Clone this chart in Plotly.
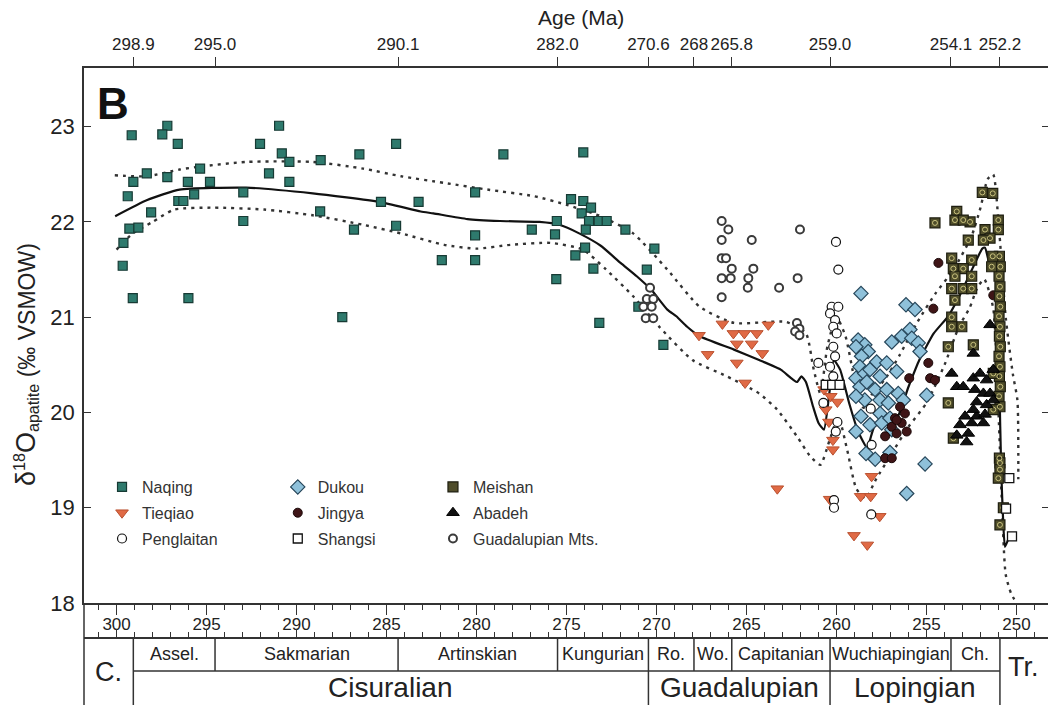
import plotly.graph_objects as go

# ---------------- data ----------------
top_tick_labels = ["298.9", "295.0", "290.1", "282.0", "270.6", "268", "265.8", "259.0", "254.1", "252.2"]
# position of each labelled boundary on the numeric age axis
boundary_pos = [299.07, 294.53, 284.36, 275.50, 270.45, 267.92, 265.82, 260.36, 253.64, 250.92]
stage_names = ["Assel.", "Sakmarian", "Artinskian", "Kungurian", "Ro.", "Wo.", "Capitanian", "Wuchiapingian", "Ch."]
series_names = ["Cisuralian", "Guadalupian", "Lopingian"]
series_span = [(0, 4), (4, 7), (7, 9)]

naqing_age = [299.16, 297.18, 297.46, 296.60, 292.03, 290.97, 284.47, 286.51, 290.82, 290.40, 288.66, 295.36,
              298.32, 297.18, 299.07, 296.04, 294.81, 291.53, 290.40, 295.69, 292.96, 296.57, 296.29, 299.38,
              298.08, 285.31, 283.22, 299.29, 298.79, 292.96, 288.69, 286.81, 284.47, 299.62, 299.66, 299.10,
              296.01, 287.46, 278.51, 274.07, 280.08, 280.08, 281.93, 280.08, 276.93, 275.64, 275.54, 274.75,
              274.07, 273.64, 274.16, 273.75, 273.21, 272.77, 273.93, 273.97, 274.51, 273.51, 271.73, 270.12,
              270.54, 275.57, 273.18, 269.62, 271.01]
naqing_d18o = [22.91, 23.01, 22.92, 22.82, 22.82, 23.01, 22.82, 22.71, 22.72, 22.63, 22.65, 22.56,
               22.51, 22.47, 22.42, 22.42, 22.42, 22.51, 22.42, 22.29, 22.31, 22.22, 22.22, 22.27,
               22.10, 22.21, 22.21, 21.93, 21.94, 22.01, 22.11, 21.92, 21.96, 21.78, 21.54, 21.20,
               21.20, 21.00, 22.71, 22.73, 22.31, 21.86, 21.60, 21.60, 21.92, 21.87, 22.01, 22.24,
               22.22, 22.15, 22.09, 22.01, 22.01, 22.01, 21.92, 21.73, 21.65, 21.51, 21.92, 21.72,
               21.50, 21.40, 20.94, 20.71, 21.11]

tieqiao_age = [267.64, 266.34, 265.73, 265.12, 264.43, 263.79, 265.54, 264.71, 264.12, 267.16, 265.54, 265.08,
               263.29, 260.69, 260.32, 260.60, 259.95, 260.42, 260.20, 260.20, 260.38, 258.66, 258.10, 258.05,
               257.60, 259.03, 258.29]
tieqiao_d18o = [20.81, 20.93, 20.83, 20.83, 20.83, 20.92, 20.72, 20.72, 20.62, 20.61, 20.52, 20.31,
                19.20, 20.24, 20.17, 20.03, 20.11, 19.90, 19.71, 19.61, 19.09, 19.12, 19.12, 19.33,
                18.91, 18.71, 18.61]

penglaitan_age = [260.03, 259.90, 260.27, 259.90, 260.36, 260.08, 260.18, 259.99, 260.18, 260.08, 260.36,
                  261.01, 260.18, 260.73, 259.95, 260.04, 258.10, 258.05, 260.14, 260.14, 258.07]
penglaitan_d18o = [21.79, 21.50, 21.11, 21.11, 21.04, 20.97, 20.90, 20.83, 20.69, 20.59, 20.48,
                   20.52, 20.38, 20.10, 19.90, 19.80, 20.04, 19.66, 19.08, 19.00, 18.93]

dukou_age = [258.64, 258.80, 258.43, 258.24, 258.61, 258.92, 258.70, 258.92, 258.43, 258.70, 258.43, 258.64,
             258.92, 258.36, 256.14, 255.64, 255.92, 256.38, 256.93, 255.82, 255.46, 255.36, 257.77, 258.14,
             257.21, 257.58, 258.32, 257.86, 257.21, 256.66, 257.58, 257.12, 256.57, 256.29, 257.58, 258.14,
             257.49, 257.03, 256.93, 254.99, 258.92, 257.85, 257.03, 255.08, 256.10]
dukou_d18o = [21.25, 20.76, 20.71, 20.64, 20.59, 20.69, 20.48, 20.36, 20.41, 20.27, 20.13, 19.96,
              19.80, 19.57, 21.13, 21.08, 20.87, 20.80, 20.74, 20.78, 20.73, 20.64, 20.53, 20.45,
              20.52, 20.38, 20.32, 20.24, 20.24, 20.43, 20.13, 20.10, 20.20, 20.13, 19.99, 19.87,
              19.89, 19.94, 19.82, 20.18, 20.17, 19.51, 19.58, 19.46, 19.15]

jingya_age = [254.34, 254.62, 251.29, 254.90, 254.80, 254.53, 255.96, 256.47, 256.20, 256.75, 256.38, 256.93,
              257.30, 256.66, 256.66, 256.10, 257.30, 256.93]
jingya_d18o = [21.57, 21.09, 21.23, 20.52, 20.36, 20.34, 20.36, 20.06, 19.99, 19.94, 19.89, 19.85,
               19.75, 19.78, 19.92, 19.80, 19.52, 19.52]

shangsi_age = [260.60, 260.24, 259.83, 250.40, 250.58, 250.25]
shangsi_d18o = [20.29, 20.29, 20.29, 19.31, 18.99, 18.70]

meishan_age = [251.90, 251.32, 254.53, 253.32, 253.42, 252.58, 252.96, 251.01, 251.01, 251.75, 251.47, 251.84,
               252.68, 253.60, 252.49, 253.51, 252.96, 253.42, 252.49, 253.60, 252.96, 252.49, 253.42, 253.60,
               253.04, 253.60,
               250.95, 250.90, 250.97, 250.92, 250.95, 250.90, 250.97, 250.92, 250.95, 250.90, 250.97, 250.92,
               250.95, 250.90, 250.97, 250.92, 250.95,
               251.32, 251.38, 253.79, 252.40, 253.79, 253.51, 251.29, 251.29, 250.92, 250.92, 251.01, 250.73,
               250.92]
meishan_d18o = [22.31, 22.30, 21.99, 22.11, 22.02, 22.00, 22.02, 22.02, 21.92, 21.92, 21.83, 21.81,
                21.81, 21.62, 21.60, 21.51, 21.51, 21.43, 21.43, 21.30, 21.30, 21.30, 21.18, 21.00,
                20.90, 20.90,
                21.64, 21.53, 21.43, 21.32, 21.22, 21.11, 21.01, 20.90, 20.80, 20.69, 20.59, 20.48,
                20.38, 20.27, 20.17, 20.06, 19.52,
                21.64, 21.53, 20.69, 20.71, 20.10, 19.73, 20.41, 20.03, 19.47, 19.40, 19.31, 19.00,
                18.82]

abadeh_age = [251.47, 252.40, 253.60, 253.32, 252.40, 252.03, 251.66, 251.29, 252.31, 251.84, 251.47, 252.21,
              251.66, 251.29, 252.86, 252.21, 253.14, 252.49, 251.84, 252.68, 253.32, 252.77, 252.96, 252.40,
              251.75]
abadeh_d18o = [20.92, 20.62, 20.41, 20.27, 20.36, 20.41, 20.34, 20.45, 20.24, 20.20, 20.20, 20.11,
               20.08, 20.13, 19.96, 19.96, 19.87, 19.89, 19.89, 19.78, 19.76, 19.69, 20.27, 20.03,
               19.98]

guad_age = [270.36, 270.54, 270.18, 270.73, 270.27, 270.60, 270.18,
            266.38, 266.01, 266.38, 264.71, 262.03, 266.38, 266.14, 265.82, 264.62, 266.38, 265.88, 264.90,
            264.93, 263.19, 262.16, 266.38, 262.20, 262.06, 262.30, 262.06]
guad_d18o = [21.31, 21.19, 21.19, 21.11, 21.11, 20.99, 20.99,
             22.01, 21.92, 21.81, 21.81, 21.92, 21.62, 21.62, 21.51, 21.51, 21.41, 21.41, 21.41,
             21.31, 21.31, 21.41, 21.21, 20.94, 20.88, 20.85, 20.81]

mean_age = [300.08, 298.3, 296.5, 292.8, 289.1, 285.4, 283.1, 282.4, 280.5, 278.7, 276.5, 275.4, 274.3, 273.1,
            272.0, 271.1, 270.3, 269.4, 268.9, 268.3, 267.6, 265.7, 264.3, 263.1, 262.2, 261.95, 261.7, 261.3,
            261.0, 260.7, 260.4, 260.15, 259.8, 259.3, 258.8, 258.3, 257.9, 257.3, 256.7, 256.0, 255.4, 254.6,
            253.8, 253.1, 252.4, 251.9, 251.75, 251.4, 251.1, 251.0, 250.95, 250.85, 250.75, 250.64, 250.4]
mean_d18o = [22.06, 22.23, 22.34, 22.36, 22.30, 22.21, 22.11, 22.09, 22.03, 22.01, 22.00, 21.97, 21.88, 21.75,
             21.57, 21.43, 21.29, 21.08, 21.01, 20.90, 20.80, 20.66, 20.55, 20.45, 20.32, 20.38, 20.32, 20.06,
             19.89, 19.82, 20.20, 20.55, 20.45, 20.10, 19.80, 19.63, 19.85, 19.92, 19.92, 20.27, 20.55, 20.83,
             21.01, 21.25, 21.53, 21.72, 21.73, 21.50, 21.55, 21.20, 20.30, 19.40, 18.90, 18.59, 18.70]

upper_age = [300.1, 298.3, 296.5, 295.4, 292.8, 289.1, 286.3, 284.2, 281.8, 279.4, 276.8, 275.0, 273.1, 271.3,
             269.4, 267.6, 265.7, 262.8, 261.7, 261.3, 260.9, 260.5, 260.0, 259.5, 259.0, 258.5, 258.0, 257.3,
             256.5, 255.5, 254.5, 253.5, 252.5, 252.0, 251.6, 251.3, 251.0, 250.6, 250.2, 249.95, 249.9]
upper_d18o = [22.49, 22.48, 22.55, 22.58, 22.63, 22.63, 22.56, 22.48, 22.41, 22.34, 22.27, 22.18, 22.06, 21.88,
              21.50, 21.11, 20.94, 20.95, 20.83, 20.48, 20.20, 20.70, 21.00, 20.80, 20.35, 20.05, 20.20, 20.35,
              20.60, 20.95, 21.25, 21.50, 21.85, 22.15, 22.45, 22.50, 22.00, 21.00, 20.40, 20.13, 19.30]

lower_age = [300.0, 299.1, 298.0, 296.8, 294.6, 291.8, 289.1, 286.3, 284.2, 281.8, 280.0, 278.1, 275.9, 274.1,
             272.8, 271.3, 269.8, 268.0, 266.1, 264.3, 263.3, 262.2, 261.5, 260.9, 260.4, 259.9, 259.4, 258.9,
             258.4, 257.8, 257.0, 256.0, 255.0, 254.0, 253.2, 252.6, 252.2, 251.8, 251.3, 251.0, 250.8, 250.6,
             250.3, 250.0]
lower_d18o = [21.71, 21.88, 22.00, 22.13, 22.15, 22.13, 22.07, 21.97, 21.88, 21.76, 21.72, 21.76, 21.78, 21.71,
              21.50, 21.22, 20.89, 20.55, 20.38, 20.20, 20.03, 19.75, 19.55, 19.45, 19.70, 19.95, 19.60, 19.20,
              19.10, 19.30, 19.55, 19.85, 20.10, 20.50, 20.90, 21.10, 21.30, 21.40, 21.10, 20.00, 19.00, 18.30,
              18.10, 18.00]

# ---------------- figure ----------------
FONT = "Liberation Sans, Arial, Helvetica, sans-serif"
XR = [301.81, 248.25]
YR = [18.0, 23.616]
YDOM0 = 0.1601      # bottom of plot area (603 px)
TBL_MID = 0.1052    # second table line (638 px)
TBL_LOW = 0.0534    # stage/series split (671 px)

fig = go.Figure()

# curves
fig.add_trace(go.Scatter(x=upper_age, y=upper_d18o, mode="lines", showlegend=False, hoverinfo="skip",
                         line=dict(color="#333333", width=2.4, dash="3px,5px", shape="spline", smoothing=0.6)))
fig.add_trace(go.Scatter(x=lower_age, y=lower_d18o, mode="lines", showlegend=False, hoverinfo="skip",
                         line=dict(color="#333333", width=2.4, dash="3px,5px", shape="spline", smoothing=0.6)))
fig.add_trace(go.Scatter(x=mean_age, y=mean_d18o, mode="lines", showlegend=False, hoverinfo="skip",
                         line=dict(color="#111111", width=2.2, shape="spline", smoothing=0.5)))


def pts(name, xs, ys, legend, rank, symbol, size, fill, line_color, line_w=1.0):
    return go.Scatter(x=xs, y=ys, mode="markers", name=name, legend=legend, legendgroup=name,
                      legendrank=rank,
                      marker=dict(symbol=symbol, size=size, color=fill,
                                  line=dict(color=line_color, width=line_w)))


fig.add_trace(pts("Naqing", naqing_age, naqing_d18o, "legend", 1, "square", 9, "#2e7a6d", "#173a34", 1.2))
fig.add_trace(pts("Tieqiao", tieqiao_age, tieqiao_d18o, "legend", 2, "triangle-down", 11, "#e06a45", "#b9502f", 1.0))
fig.add_trace(pts("Guadalupian Mts.", guad_age, guad_d18o, "legend3", 3, "circle", 8, "#ffffff", "#3a3a3a", 2.0))
fig.add_trace(pts("Dukou", dukou_age, dukou_d18o, "legend2", 1, "diamond", 11, "#8fc1da", "#26465a", 1.2))
fig.add_trace(pts("Jingya", jingya_age, jingya_d18o, "legend2", 2, "circle", 9, "#3f1517", "#1a0808", 1.0))
fig.add_trace(pts("Meishan", meishan_age, meishan_d18o, "legend3", 1, "square", 10, "#4f4d2a", "#1e1e10", 1.2))
fig.add_trace(go.Scatter(x=meishan_age, y=meishan_d18o, mode="markers", showlegend=False, hoverinfo="skip",
                         marker=dict(symbol="circle-open", size=5, color="#c9c27e", line=dict(width=1))))
fig.add_trace(pts("Abadeh", abadeh_age, abadeh_d18o, "legend3", 2, "triangle-up", 11, "#111111", "#000000", 1.0))
fig.add_trace(pts("Penglaitan", penglaitan_age, penglaitan_d18o, "legend", 3, "circle", 9, "#ffffff", "#111111", 1.2))
fig.add_trace(pts("Shangsi", shangsi_age, shangsi_d18o, "legend2", 3, "square", 9, "#ffffff", "#111111", 1.3))

# dummy traces so that overlay axes are drawn
fig.add_trace(go.Scatter(x=[None], y=[None], xaxis="x2", yaxis="y", showlegend=False, hoverinfo="skip"))
fig.add_trace(go.Scatter(x=[None], y=[None], xaxis="x3", yaxis="y", showlegend=False, hoverinfo="skip"))
fig.add_trace(go.Scatter(x=[None], y=[None], xaxis="x", yaxis="y2", showlegend=False, hoverinfo="skip"))

AX = "#333333"
LEG = dict(xanchor="left", yanchor="top", bgcolor="rgba(0,0,0,0)",
           font=dict(size=16, color="#333"), tracegroupgap=2)
LEG_Y = 0.3689
fig.update_layout(
    width=1048, height=705,
    margin=dict(l=84, r=0, t=68, b=0, autoexpand=False),
    paper_bgcolor="white", plot_bgcolor="white",
    font=dict(family=FONT, color="#222222"),
    hovermode=False,
    xaxis=dict(domain=[0, 1], range=XR, anchor="y", side="bottom", showgrid=False, zeroline=False,
               showline=True, linecolor=AX, linewidth=1.5,
               ticks="outside", ticklen=10, tickwidth=1.3, tickcolor=AX, ticklabelstandoff=-5,
               tickmode="linear", tick0=250, dtick=5, tickfont=dict(size=17, color="#222"),
               minor=dict(ticks="outside", ticklen=5, dtick=1, tick0=250, tickcolor=AX, tickwidth=1)),
    xaxis2=dict(range=XR, overlaying="x", anchor="y", side="top", showgrid=False, zeroline=False,
                showline=True, linecolor=AX, linewidth=1.5, ticks="outside", ticklen=9, tickwidth=1.3,
                tickcolor=AX, tickmode="array", tickvals=boundary_pos, ticktext=top_tick_labels,
                tickfont=dict(size=17, color="#222")),
    xaxis3=dict(range=XR, overlaying="x", anchor="free", position=TBL_MID, side="top", showgrid=False,
                zeroline=False, showline=True, linecolor=AX, linewidth=1.5, ticks="outside", ticklen=8,
                tickwidth=1.3, tickcolor=AX, tickmode="linear", tick0=250, dtick=5, showticklabels=False,
                minor=dict(ticks="outside", ticklen=5, dtick=1, tick0=250, tickcolor=AX, tickwidth=1)),
    yaxis=dict(domain=[YDOM0, 1], range=YR, anchor="x", showgrid=False, zeroline=False,
               showline=True, linecolor=AX, linewidth=1.5, ticks="inside", ticklen=7, tickwidth=1.3,
               tickcolor=AX, tickmode="array", tickvals=[18, 19, 20, 21, 22, 23], ticklabelstandoff=3,
               tickfont=dict(size=22, color="#222")),
    yaxis2=dict(domain=[YDOM0, 1], range=YR, overlaying="y", anchor="x", side="right", showgrid=False,
                zeroline=False, showline=False, ticks="inside", ticklen=6, tickwidth=1.3, tickcolor=AX,
                tickmode="array", tickvals=[18, 19, 20, 21, 22, 23], showticklabels=False),
    legend=dict(x=0.0187, y=LEG_Y, **LEG),
    legend2=dict(x=0.201, y=LEG_Y, **LEG),
    legend3=dict(x=0.362, y=LEG_Y, **LEG),
)

# ---- stratigraphic table ----
LW = dict(color=AX, width=1.5)
shapes = [dict(type="line", xref="paper", yref="paper", x0=0, x1=0, y0=0, y1=YDOM0, line=LW)]
for i in (0, 4, 7, 9):
    shapes.append(dict(type="line", xref="x", yref="paper", x0=boundary_pos[i], x1=boundary_pos[i],
                       y0=0, y1=TBL_MID, line=LW))
for i in (1, 2, 3, 5, 6, 8):
    shapes.append(dict(type="line", xref="x", yref="paper", x0=boundary_pos[i], x1=boundary_pos[i],
                       y0=TBL_LOW, y1=TBL_MID, line=LW))
shapes.append(dict(type="line", xref="x", yref="paper", x0=boundary_pos[0], x1=boundary_pos[-1],
                   y0=TBL_LOW, y1=TBL_LOW, line=LW))
fig.update_layout(shapes=shapes)


def label(x, y, text, size, xref="paper", angle=0, color="#222"):
    return dict(x=x, y=y, xref=xref, yref="paper", text=text, showarrow=False, textangle=angle,
                xanchor="center", yanchor="middle", font=dict(size=size, color=color))


ann = []
for k, nm in enumerate(stage_names):
    ann.append(label((boundary_pos[k] + boundary_pos[k + 1]) / 2, 0.0793, nm, 18, xref="x"))
for nm, (a, b) in zip(series_names, series_span):
    ann.append(label((boundary_pos[a] + boundary_pos[b]) / 2, 0.0267, nm, 28, xref="x"))
ann.append(label(0.0249, 0.052, "C.", 27))
ann.append(label(0.975, 0.060, "Tr.", 27))
ann.append(label(0.5156, 1.0785, "Age (Ma)", 21))
ann.append(label(-0.0602, 0.5353,
                 '<span style="font-size:27px">δ</span><sup>18</sup>'
                 '<span style="font-size:27px">O</span><sub>apatite</sub> (‰ VSMOW)', 23, angle=-90))
ann.append(label(0.0301, 0.9435, "<b>B</b>", 44, color="#111"))
fig.update_layout(annotations=ann)

fig.write_html("out.html")
